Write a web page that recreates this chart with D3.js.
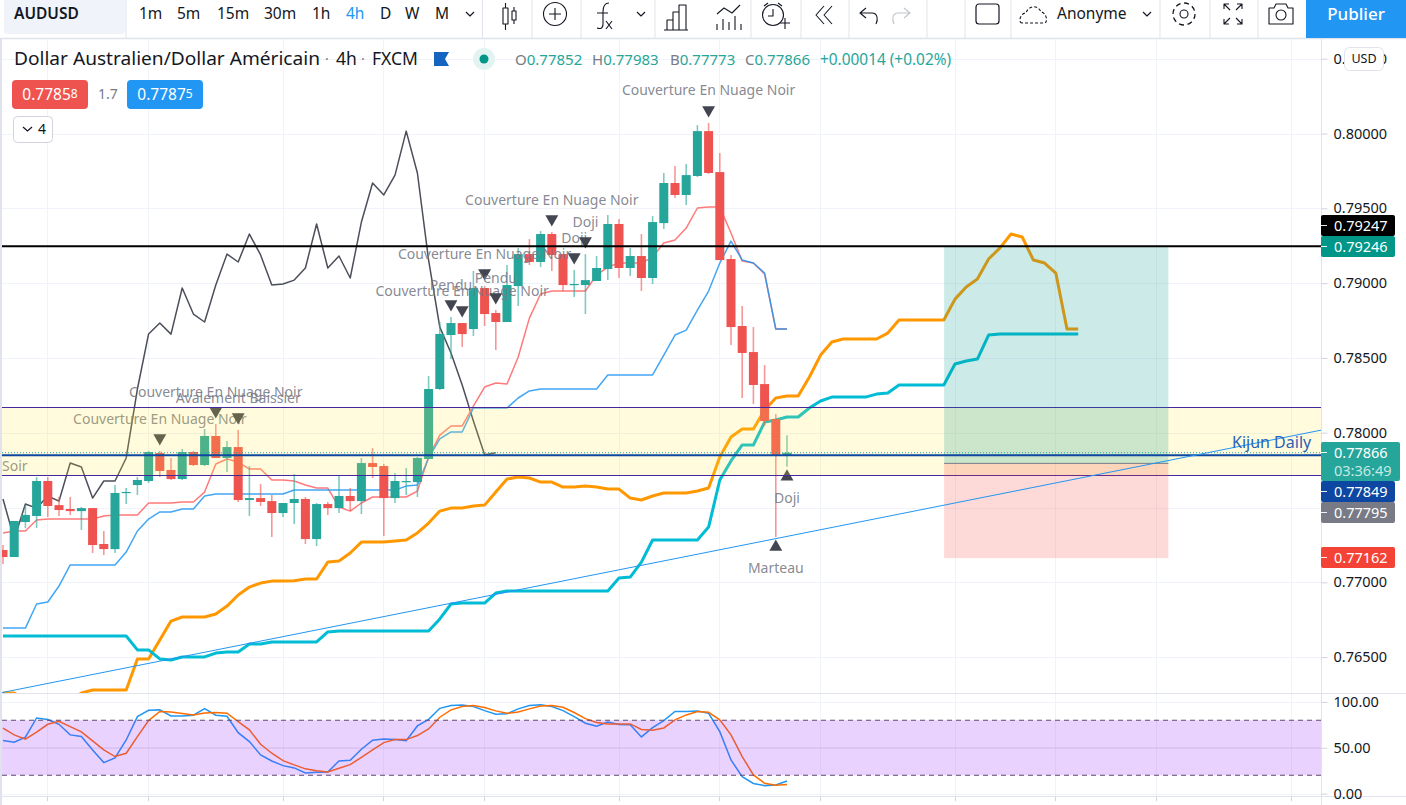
<!DOCTYPE html>
<html><head><meta charset="utf-8">
<script src="https://cdn.jsdelivr.net/npm/d3@7/dist/d3.min.js"></script>
<style>
html,body{margin:0;padding:0;background:#fff;overflow:hidden}
text{font-family:"Noto Sans",sans-serif}
</style></head><body><svg id="c" width="1406" height="805"></svg>
<script>
const opens=[.77216,.77169,.77403,.77443,.77677,.77516,.77490,.77476,.77496,.77256,.77222,.77597,.77650,.77677,.77864,.77751,.77690,.77871,.77784,.77978,.77831,.77904,.77550,.77563,.77543,.77463,.77530,.77557,.77289,.77523,.77496,.77577,.77543,.77797,.77777,.77563,.77670,.77670,.77824,.78292,.78653,.78733,.78693,.78967,.78800,.78740,.78980,.79194,.79141,.79328,.79194,.78987,.78987,.79014,.79094,.79395,.79101,.79181,.79034,.79401,.79669,.79589,.79716,.80016,.79742,.79161,.78713,.78539,.78325,.78091,.77852];
const highs=[.77249,.77410,.77517,.77704,.77704,.77570,.77570,.77503,.77496,.77343,.77650,.77630,.77704,.77878,.77878,.77831,.77891,.77878,.78025,.78058,.77944,.78018,.77777,.77657,.77583,.77530,.77724,.77570,.77530,.77537,.77711,.77630,.77831,.77898,.77791,.77731,.77764,.77838,.78379,.78740,.78773,.78733,.79081,.78980,.78820,.79121,.79234,.79294,.79348,.79341,.79194,.79087,.79194,.79181,.79455,.79428,.79234,.79328,.79448,.79736,.79782,.79796,.80056,.80070,.79869,.79188,.78847,.78706,.78452,.78125,.77983];
const lows=[.77122,.77169,.77363,.77363,.77436,.77443,.77450,.77350,.77196,.77182,.77196,.77523,.77583,.77664,.77704,.77684,.77684,.77777,.77777,.77831,.77737,.77537,.77443,.77510,.77303,.77436,.77390,.77256,.77242,.77450,.77463,.77476,.77456,.77697,.77309,.77530,.77583,.77570,.77824,.78285,.78492,.78573,.78646,.78713,.78553,.78740,.78847,.79121,.79107,.79081,.78947,.78907,.78793,.79014,.79020,.79034,.79047,.78947,.78994,.79361,.79569,.79522,.79709,.79729,.79154,.78586,.78232,.78192,.78045,.77303,.77773];
const closes=[.77169,.77410,.77450,.77677,.77510,.77483,.77476,.77496,.77249,.77222,.77597,.77604,.77684,.77871,.77744,.77690,.77871,.77784,.77978,.77831,.77904,.77550,.77563,.77537,.77463,.77530,.77557,.77289,.77523,.77496,.77577,.77543,.77797,.77771,.77563,.77677,.77677,.77831,.78292,.78660,.78733,.78659,.78967,.78793,.78740,.78987,.79194,.79141,.79328,.79188,.78987,.78994,.79020,.79101,.79395,.79101,.79181,.79034,.79408,.79669,.79589,.79722,.80016,.79736,.79154,.78706,.78533,.78319,.78078,.77852,.77866];
const tenkan=[.77329,.77343,.77343,.77416,.77423,.77423,.77423,.77423,.77423,.77443,.77450,.77450,.77450,.77530,.77530,.77530,.77537,.77537,.77603,.77791,.77824,.77804,.77757,.77757,.77684,.77684,.77677,.77650,.77630,.77630,.77503,.77476,.77530,.77570,.77570,.77570,.77570,.77610,.77837,.77984,.78045,.78045,.78178,.78305,.78332,.78325,.78506,.78766,.78927,.78947,.78947,.78947,.78947,.79054,.79107,.79134,.79134,.79134,.79174,.79268,.79288,.79368,.79502,.79508,.79508,.79335,.79147,.79134,.79061,.78693,.78693];
const kijun=[.76694,.76694,.76694,.76855,.76868,.76975,.77116,.77116,.77116,.77116,.77116,.77202,.77343,.77423,.77470,.77470,.77490,.77490,.77577,.77590,.77590,.77590,.77590,.77590,.77590,.77590,.77617,.77617,.77617,.77617,.77617,.77617,.77617,.77617,.77617,.77617,.77643,.77650,.77831,.77958,.78005,.78005,.78165,.78165,.78165,.78165,.78232,.78279,.78292,.78292,.78292,.78292,.78292,.78292,.78386,.78386,.78386,.78386,.78386,.78519,.78653,.78686,.78820,.78947,.79134,.79281,.79154,.79134,.79067,.78693,.78693];
const chikou=[.77557,.77289,.77523,.77496,.77577,.77543,.77797,.77771,.77563,.77677,.77677,.77831,.78292,.78660,.78733,.78659,.78967,.78793,.78740,.78987,.79194,.79141,.79328,.79188,.78987,.78994,.79020,.79101,.79395,.79101,.79181,.79034,.79408,.79669,.79589,.79722,.80016,.79736,.79154,.78706,.78533,.78319,.78078,.77852,.77866];
const senkouA=[.76260,.76260,.76213,.76213,.76213,.76213,.76213,.76260,.76280,.76280,.76280,.76280,.76488,.76488,.76614,.76741,.76768,.76768,.76768,.76788,.76841,.76915,.76968,.76995,.77008,.77008,.77010,.77022,.77022,.77135,.77142,.77196,.77269,.77269,.77269,.77276,.77283,.77330,.77396,.77476,.77496,.77496,.77510,.77516,.77603,.77690,.77704,.77697,.77670,.77670,.77637,.77637,.77643,.77637,.77623,.77623,.77563,.77550,.77577,.77597,.77597,.77597,.77610,.77630,.77837,.77971,.78025,.78025,.78152,.78232,.78245,.78245,.78372,.78519,.78606,.78626,.78626,.78626,.78626,.78666,.78753,.78753,.78753,.78753,.78753,.78893,.78974,.79027,.79161,.79234,.79328,.79308,.79154,.79134,.79067,.78693,.78693];
const senkouB=[.76641,.76641,.76641,.76641,.76641,.76641,.76641,.76641,.76641,.76641,.76641,.76641,.76548,.76548,.76488,.76481,.76501,.76501,.76501,.76527,.76534,.76534,.76587,.76587,.76601,.76601,.76601,.76601,.76601,.76668,.76675,.76675,.76675,.76675,.76675,.76675,.76675,.76675,.76675,.76755,.76855,.76861,.76861,.76861,.76928,.76942,.76942,.76942,.76942,.76942,.76942,.76942,.76942,.76942,.76942,.77029,.77035,.77135,.77283,.77283,.77283,.77283,.77283,.77369,.77684,.77811,.77918,.77918,.78071,.78085,.78105,.78105,.78165,.78212,.78238,.78238,.78238,.78238,.78258,.78265,.78319,.78319,.78319,.78319,.78319,.78459,.78479,.78492,.78653,.78660,.78660,.78660,.78660,.78660,.78660,.78660,.78660];
const stochK=[57.8,56,61.5,82.5,80.7,75.6,64,62.2,47.6,33.8,39,58.5,84,90.9,91.3,84.7,84.7,85.5,92.7,85.5,84.4,66.5,56.7,42.2,35.6,30.5,28,22.5,23.3,23.6,35.6,36.4,48.4,58.2,59.6,58.9,57.8,73.8,81,93,96,96.7,94.9,90.5,86.5,87,92.4,96,97,94.9,90.5,84,76.7,73.5,78,75.3,75,61.8,72,79.6,89.5,89.5,90,87.6,67.6,36.7,18.5,11,8.7,9.5,13.8];
const stochD=[71.3,64,59.3,67,75.6,78.9,73,67.3,57.5,47.6,40.4,44,62.2,79.6,89.5,89,87.3,85.8,88,88.4,87.6,78.5,69.5,53.8,44,36,31.3,27,25,23.6,27.6,31.6,39.6,47.6,55.6,58.9,58.9,63.3,70.5,83.3,91.3,94.9,96,93.8,90.2,87.6,89,92.4,95.6,96,94.2,88.4,81.8,77.5,76,76,76,70,69,71.6,80.4,85.8,89.5,88.7,80.4,64,40.4,20.4,11.3,9,10];
const priceTicks=[.805,.80,.795,.79,.785,.78,.775,.77,.765];
const hiddenPriceLabels=[.775];
const timeTickBars=[4,13,25,34,43,55,64,73,85,94,103,115];
const stochTicks=[100,50,0];
const patternNames=["Couverture En Nuage Noir","Couverture En Nuage Noir","Avalement Baissier","Couverture En Nuage Noir","Pendu","Couverture En Nuage Noir","Pendu","Couverture En Nuage Noir","Doji","Doji","Couverture En Nuage Noir","Marteau","Doji"];
const patternBars=[14,19,21,41,40,43,44,49,51,52,63,69,70];
const patternSides=[1,1,1,1,1,1,1,1,1,1,1,-1,-1];
const resistance=.79247, target=.79246, lastPrice=.77866, bluePrice=.77849, entry=.77795, stop=.77162;
const bandPrices=[.78172,.77717];
const positionBars=[84.03,104.05];
const trendBars=[-.295,117.75], trendPrices=[.76260,.78018];
const stochBand=[80,20];

const svg=d3.select("#c");
const x=d3.scaleLinear().domain([0,70]).range([3,787]);
const y=d3.scaleLinear().domain([.80,.765]).range([133.5,657.1]);
const s=d3.scaleLinear().domain([0,100]).range([793.6,701.9]);
const L=2,R=1321;
const defs=svg.append("defs");
defs.append("clipPath").attr("id","mc").append("rect").attr("x",L).attr("y",39).attr("width",R-L).attr("height",654);
defs.append("clipPath").attr("id","lc").append("rect").attr("x",L).attr("y",694).attr("width",R-L).attr("height",102);

svg.append("rect").attr("x",0).attr("y",0).attr("width",2).attr("height",805).attr("fill","#e0e3eb");
const C="#131722", G="#787b86";
const grid=svg.append("g").attr("stroke","#f0f3fa").attr("stroke-width",1);
timeTickBars.forEach(b=>{const X=Math.floor(x(b))+.5;
  grid.append("line").attr("x1",X).attr("x2",X).attr("y1",39).attr("y2",693);
  grid.append("line").attr("x1",X).attr("x2",X).attr("y1",694).attr("y2",796);
  svg.append("line").attr("x1",X).attr("x2",X).attr("y1",796).attr("y2",801).attr("stroke","#d1d4dc");
});
priceTicks.forEach(p=>{const Y=Math.round(y(p))+.5;grid.append("line").attr("x1",L).attr("x2",R).attr("y1",Y).attr("y2",Y);});
stochTicks.forEach(v=>{const Y=Math.round(s(v))+.5;grid.append("line").attr("x1",L).attr("x2",R).attr("y1",Y).attr("y2",Y);});

const main=svg.append("g").attr("clip-path","url(#mc)");
const lineY=d3.line().x((d,i)=>x(i)).y(d=>y(d));
[[senkouA,"#ff9800",3,1],[senkouB,"#00bcd4",3,1],[chikou,"#4c4f5a",1.5,1],[tenkan,"#ff7a7a",1.5,1],[kijun,"#2196f3",1.5,.85]].forEach(([d,c,w,o])=>{
  main.append("path").attr("d",lineY(d)).attr("fill","none").attr("stroke",c).attr("stroke-width",w).attr("stroke-opacity",o).attr("stroke-linejoin","round");
});
const bw=9;
closes.forEach((c,i)=>{
  const up=c>=opens[i], col=up?"#26a69a":"#ef5350";
  main.append("line").attr("x1",x(i)).attr("x2",x(i)).attr("y1",y(highs[i])).attr("y2",y(lows[i])).attr("stroke",col).attr("stroke-width",1.6).attr("stroke-opacity",.6);
  const t=y(Math.max(c,opens[i])),b=y(Math.min(c,opens[i]));
  main.append("rect").attr("x",x(i)-bw/2).attr("y",t).attr("width",bw).attr("height",Math.max(b-t,1.2)).attr("fill",col);
});
const tri=d3.symbol().type(d3.symbolTriangle).size(72);
patternBars.forEach((b,k)=>{
  const dn=patternSides[k]>0;
  const ty=dn?y(highs[b])-13:y(lows[b])+10;
  main.append("path").attr("d",tri()).attr("transform",`translate(${x(b)},${ty}) rotate(${dn?180:0})`).attr("fill","#434651");
  const ly=b===63?ty-20:(dn?ty-19:ty+21);
  main.append("text").attr("x",x(b)).attr("y",ly).attr("dy","0.35em").attr("text-anchor","middle").attr("font-size",14).attr("fill",G).attr("fill-opacity",.9).text(patternNames[k]);
});
main.append("text").attr("x",2).attr("y",466).attr("dy","0.35em").attr("font-size",14).attr("fill",G).attr("fill-opacity",.9).text("Soir");

const by0=Math.round(y(bandPrices[0]))+.5,by1=Math.round(y(bandPrices[1]))+.5;
main.append("rect").attr("x",L).attr("y",by0).attr("width",R-L).attr("height",by1-by0).attr("fill","rgba(255,235,59,.18)");
[by0,by1].forEach(Y=>main.append("line").attr("x1",L).attr("x2",R).attr("y1",Y).attr("y2",Y).attr("stroke","#4527a0").attr("stroke-width",1));
const px0=x(positionBars[0]),px1=x(positionBars[1]);
main.append("rect").attr("x",px0).attr("y",y(target)).attr("width",px1-px0).attr("height",y(entry)-y(target)).attr("fill","rgba(0,150,136,.2)");
main.append("rect").attr("x",px0).attr("y",y(entry)).attr("width",px1-px0).attr("height",y(stop)-y(entry)).attr("fill","rgba(244,67,54,.2)");
main.append("line").attr("x1",px0).attr("x2",px1).attr("y1",y(entry)).attr("y2",y(entry)).attr("stroke",G).attr("stroke-width",1);
main.append("line").attr("x1",L).attr("x2",R).attr("y1",y(resistance)).attr("y2",y(resistance)).attr("stroke","#000").attr("stroke-width",2);
main.append("line").attr("x1",L).attr("x2",R).attr("y1",y(lastPrice)).attr("y2",y(lastPrice)).attr("stroke","#26a69a").attr("stroke-dasharray","1 2");
main.append("line").attr("x1",L).attr("x2",R).attr("y1",y(bluePrice)).attr("y2",y(bluePrice)).attr("stroke","#0d47a1").attr("stroke-width",2);
main.append("line").attr("x1",x(trendBars[0])).attr("x2",x(trendBars[1])).attr("y1",y(trendPrices[0])).attr("y2",y(trendPrices[1])).attr("stroke","#2196f3").attr("stroke-width",1);
main.append("text").attr("x",1232).attr("y",442).attr("dy","0.35em").attr("font-size",16).attr("fill","#2a62b8").text("Kijun Daily");

const low=svg.append("g").attr("clip-path","url(#lc)");
const lineS=d3.line().x((d,i)=>x(i)).y(d=>s(d));
low.append("path").attr("d",lineS(stochK)).attr("fill","none").attr("stroke","#2196f3").attr("stroke-width",1.5);
low.append("path").attr("d",lineS(stochD)).attr("fill","none").attr("stroke","#ff6d00").attr("stroke-width",1.5);
low.append("rect").attr("x",L).attr("y",s(stochBand[0])).attr("width",R-L).attr("height",s(stochBand[1])-s(stochBand[0])).attr("fill","rgba(150,30,255,.2)");
stochBand.forEach(v=>low.append("line").attr("x1",L).attr("x2",R).attr("y1",s(v)).attr("y2",s(v)).attr("stroke","#5d4b6d").attr("stroke-dasharray","5 4"));
low.append("line").attr("x1",L).attr("x2",R).attr("y1",s(50)).attr("y2",s(50)).attr("stroke","#787b86").attr("stroke-opacity",.14);

svg.append("line").attr("x1",0).attr("x2",1406).attr("y1",693.5).attr("y2",693.5).attr("stroke","#e0e3eb");
svg.append("line").attr("x1",0).attr("x2",1406).attr("y1",796.5).attr("y2",796.5).attr("stroke","#e0e3eb");
svg.append("line").attr("x1",R+.5).attr("x2",R+.5).attr("y1",39).attr("y2",805).attr("stroke","#e0e3eb");

const ax=svg.append("g").attr("transform",`translate(${R+.5},0)`).call(d3.axisRight(y).tickValues(priceTicks).tickFormat(v=>hiddenPriceLabels.includes(v)?"":d3.format(".5f")(v)).tickSize(6).tickPadding(6));
ax.select(".domain").remove();
ax.selectAll("line").attr("stroke","#d1d4dc");
ax.selectAll("text").attr("font-size",14.5).attr("fill",C);
const ax2=svg.append("g").attr("transform",`translate(${R+.5},0)`).call(d3.axisRight(s).tickValues(stochTicks).tickFormat(d3.format(".2f")).tickSize(6).tickPadding(6));
ax2.select(".domain").remove();
ax2.selectAll("line").attr("stroke","#d1d4dc");
ax2.selectAll("text").attr("font-size",14.5).attr("fill",C);

function plabel(val,top,h,w,bg,col){
  svg.append("rect").attr("x",R).attr("y",top).attr("width",w).attr("height",h).attr("rx",2).attr("fill",bg);
  svg.append("line").attr("x1",R).attr("x2",R+6).attr("y1",top+10.5).attr("y2",top+10.5).attr("stroke","#fff").attr("stroke-opacity",.9);
  svg.append("text").attr("x",1334).attr("y",top+10.5).attr("dy","0.35em").attr("font-size",14.5).attr("fill",col).text(d3.format(".5f")(val));
}
plabel(resistance,215,21,74,"#000","#fff");
plabel(target,236,21,74,"#009688","#fff");
plabel(lastPrice,442,39,79,"#26a69a","#fff");
svg.append("text").attr("x",1334).attr("y",471).attr("dy","0.35em").attr("font-size",14.5).attr("fill","#fff").attr("fill-opacity",.75).text("03:36:49");
plabel(bluePrice,481,21,74,"#0d47a1","#fff");
plabel(entry,502,21,74,"#787b86","#fff");
plabel(stop,547,21,74,"#f44336","#fff");

svg.append("rect").attr("x",1344.5).attr("y",47.5).attr("width",39).attr("height",23).attr("rx",5).attr("fill","#fff").attr("stroke","#e0e3eb");
svg.append("text").attr("x",1364).attr("y",59).attr("dy","0.35em").attr("text-anchor","middle").attr("font-size",12.5).attr("fill",C).text("USD");

const t=(X,Y,str,size,col,extra={})=>{const e=svg.append("text").attr("x",X).attr("y",Y).attr("dy","0.35em").attr("font-size",size).attr("fill",col).text(str);Object.entries(extra).forEach(([k,v])=>e.attr(k,v));return e;};
t(14,59,"Dollar Australien/Dollar Américain",18,C,{textLength:306,lengthAdjust:"spacingAndGlyphs"});
t(325,59,"·",14,G);
t(336,59,"4h",17.5,C);
t(361,59,"·",14,G);
t(372,59,"FXCM",17.5,C);
svg.append("path").attr("d","M434,52H449L445,59L449,66H434Z").attr("fill","#1565c0");
svg.append("circle").attr("cx",484).attr("cy",59).attr("r",11).attr("fill","#e3f3f1");
svg.append("circle").attr("cx",484).attr("cy",59).attr("r",4.5).attr("fill","#009688");
const tl="#26a69a";
[["O","0.77852",515],["H","0.77983",592],["B","0.77773",670],["C","0.77866",745]].forEach(([a,v,X])=>{
  const e=t(X,60,a,15,G);e.append("tspan").attr("fill",tl).text(v);
});
t(820,60,"+0.00014 (+0.02%)",15.4,tl);
function priceBtn(X,col,big,small){
  svg.append("rect").attr("x",X).attr("y",80).attr("width",76).attr("height",29).attr("rx",4).attr("fill",col);
  const e=t(X+38,94.5,big,15.5,"#fff",{"text-anchor":"middle"});
  e.append("tspan").attr("font-size",12).attr("dy",-2).text(small);
}
priceBtn(12,"#ef5350","0.7785","8");
priceBtn(127,"#2196f3","0.7787","5");
t(98,94.5,"1.7",14,G);
svg.append("rect").attr("x",13.5).attr("y",116.5).attr("width",39).attr("height",26).attr("rx",4).attr("fill","#fff").attr("stroke","#d1d4dc");
svg.append("path").attr("d","M23,127L27.5,131L32,127").attr("fill","none").attr("stroke",C).attr("stroke-width",1.3);
t(38,129.5,"4",14,C);

svg.append("rect").attr("x",0).attr("y",0).attr("width",1406).attr("height",38).attr("fill","#fff");
svg.append("line").attr("x1",0).attr("x2",1406).attr("y1",38.5).attr("y2",38.5).attr("stroke","#e0e3eb").attr("stroke-width",1.5);
svg.append("rect").attr("x",4).attr("y",-4).attr("width",121).attr("height",38).attr("rx",3).attr("fill","#f0f3fa");
t(14,14,"AUDUSD",15.5,C,{"font-weight":600});
[["1m",139],["5m",177],["15m",217],["30m",264],["1h",312],["D",380],["W",405],["M",435]].forEach(([k,X])=>t(X,14,k,15.5,C));
t(346,14,"4h",15.5,"#2196f3");
[126,482.5,532,581,655,751,801,849,927,965,1011,1160,1210,1258].forEach(X=>svg.append("line").attr("x1",X).attr("x2",X).attr("y1",0).attr("y2",38).attr("stroke","#e0e3eb"));
const ic=(d,w=1.1)=>svg.append("path").attr("d",d).attr("fill","none").attr("stroke",C).attr("stroke-width",w).attr("stroke-linejoin","round");
const chev=X=>ic(`M${X-4},12L${X},16L${X+4},12`);
chev(470);chev(641);chev(1147);
ic("M503,8H508V24H503ZM505.5,3V8M505.5,24V30M512,11H516V20H512ZM514,7V11M514,20V24");
svg.append("circle").attr("cx",555).attr("cy",14).attr("r",11.5).attr("fill","none").attr("stroke",C).attr("stroke-width",1.1);
ic("M549,14H561M555,8V20");
ic("M609,3C604,3 603,7 603,12V24C603,29 600,29 597,28M597,13H608M606,21L612,29M612,21L606,29");
ic("M667,30V20H673V30ZM673,30V12H679V30ZM679,30V5H686V30ZM664,30H688");
ic("M717,14L724,8L732,13L740,5M717,30V24M723,30V19M729,30V22M735,30V16M741,30V24");
svg.append("circle").attr("cx",773).attr("cy",15).attr("r",10.5).attr("fill","none").attr("stroke",C).attr("stroke-width",1.1);
ic("M773,9V16H768M764,6L768,3M782,6L778,3M780,23H790M785,18V29");
ic("M824,6L816,15L824,24M832,6L824,15L832,24");
ic("M866,8L860,13L866,18M861,13H872C878,13 878,20 876,24");
svg.append("path").attr("d","M904,8L910,13L904,18M909,13H898C892,13 892,20 894,24").attr("fill","none").attr("stroke","#c1c4cd").attr("stroke-width",1.1);
svg.append("rect").attr("x",976).attr("y",4).attr("width",23).attr("height",20).attr("rx",3).attr("fill","none").attr("stroke",C).attr("stroke-width",1.2);
ic("M1022,23C1018,23 1020,13 1026,13C1028,6 1038,4 1041,12C1046,12 1049,23 1044,23Z").attr("stroke-dasharray","3 2");
t(1057,14,"Anonyme",15.5,C);
svg.append("circle").attr("cx",1184).attr("cy",14).attr("r",4).attr("fill","none").attr("stroke",C).attr("stroke-width",1.1);
svg.append("circle").attr("cx",1184).attr("cy",14).attr("r",11).attr("fill","none").attr("stroke",C).attr("stroke-width",1.3).attr("stroke-dasharray","5 3.6");
ic("M1224,9V4H1229M1237,4H1242V9M1242,19V24H1237M1229,24H1224V19M1224,4L1230,10M1242,4L1236,10M1242,24L1236,18M1224,24L1230,18");
ic("M1269,8H1274L1276,4H1286L1288,8H1293V24H1269Z");
svg.append("circle").attr("cx",1281).attr("cy",15).attr("r",5).attr("fill","none").attr("stroke",C).attr("stroke-width",1.1);
svg.append("rect").attr("x",1306).attr("y",0).attr("width",100).attr("height",38).attr("fill","#2196f3");
t(1356,14,"Publier",17,"#fff",{"text-anchor":"middle","font-weight":500});
</script></body></html>
